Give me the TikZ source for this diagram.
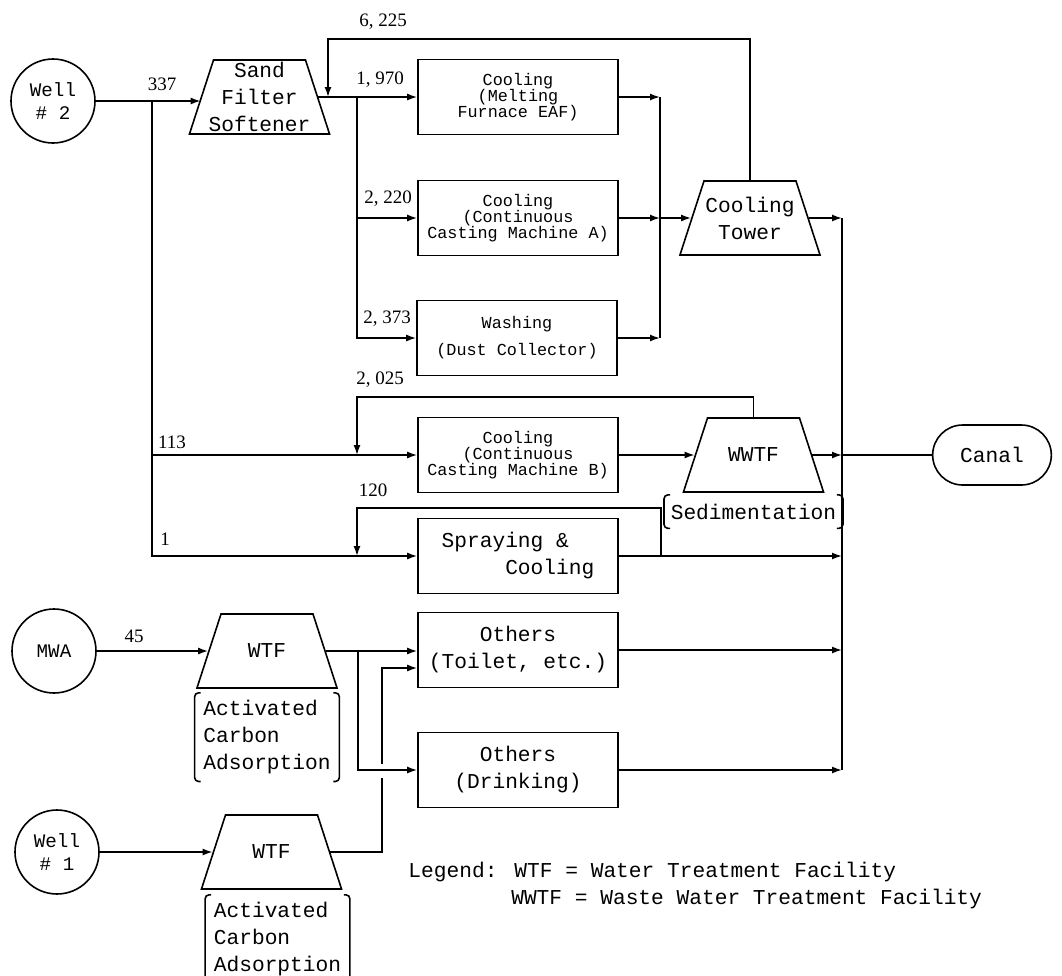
\documentclass[tikz,border=0pt]{standalone}
\usepackage{fontspec}
\setmainfont{Liberation Serif}
\newfontfamily\typewriter{Liberation Mono}
\usetikzlibrary{positioning,shapes.geometric,shapes.misc,arrows.meta}
\tikzset{
  txtbig/.style={font=\typewriter\fontsize{10.6}{13.5}\selectfont},
  txtsmall/.style={font=\typewriter\fontsize{8.4}{8.1}\selectfont},
  txtwide/.style={font=\typewriter\fontsize{8.4}{13.5}\selectfont},
  num/.style={font=\fontsize{9.5}{10}\selectfont, inner sep=0pt},
  box/.style={draw, minimum width=100pt, minimum height=37.5pt, inner sep=1pt, align=center},
  well/.style={draw, circle, minimum size=42pt, inner sep=0pt, align=center, font=\typewriter\fontsize{9.6}{11.5}\selectfont},
  plant/.style={draw, trapezium, trapezium angle=72, inner xsep=23pt, inner ysep=18.5pt},
  bracket/.style={txtbig, align=left, inner xsep=4pt}
}
\begin{document}
\begin{tikzpicture}[x=0.5pt, y=-0.5pt, line width=0.8pt, >={Latex[length=5pt,width=3.5pt]}]
  \useasboundingbox (0,0) rectangle (1062,976);
  % sources
  \node[well] (well2) at (53,101) {Well\\\# 2};
  \node[well] (mwa) at (54,651) {MWA};
  \node[well] (well1) at (57,852) {Well\\\# 1};
  % treatment
  \node[plant, label={[txtbig,align=center]center:{Sand\\Filter\\Softener}}] (sand) at (259.5,97) {};
  \node[plant, label={[txtbig,align=center]center:{Cooling\\Tower}}] (tower) at (750,218) {};
  \node[plant, label={[txtbig]center:WWTF}] (wwtf) at (753.5,455) {};
  \node[plant, label={[txtbig]center:WTF}] (wtf1) at (267,651) {};
  \node[plant, label={[txtbig]center:WTF}] (wtf2) at (271.5,852) {};
  \node[bracket, below=2pt of wtf1, minimum height=43pt] (acA) {Activated\\Carbon\\Adsorption};
  \node[bracket, below=2.5pt of wtf2, xshift=3pt, minimum height=40pt] (acB) {Activated\\Carbon\\Adsorption};
  \node[bracket, below=1pt of wwtf, minimum height=16pt, inner xsep=3pt] (sed) {Sedimentation};
  % uses
  \node[box, txtsmall] (furnace) at (518,97) {Cooling\\(Melting\\Furnace EAF)};
  \node[box, txtsmall] (castA) at (518,218) {Cooling\\(Continuous\\Casting Machine A)};
  \node[box, txtwide] (washing) at (517,338) {Washing\\(Dust Collector)};
  \node[box, txtsmall] (castB) at (518,455) {Cooling\\(Continuous\\Casting Machine B)};
  \node[box, txtbig, align=left] (spray) at (518,556) {Spraying \&\\\hspace*{3em}Cooling};
  \node[box, txtbig] (toilet) at (518,650) {Others\\(Toilet, etc.)};
  \node[box, txtbig] (drinking) at (518,770) {Others\\(Drinking)};
  \node[txtbig, draw, rounded rectangle, minimum width=66pt, minimum height=30pt] (canal) at (992,455) {Canal};
  % flow values
  \node[num] (q337) at (162,84) {337};
  \node[num] (q6225) at (383,22) {6, 225};
  \node[num] (q1970) at (380,80) {1, 970};
  \node[num] (q2220) at (388,199) {2, 220};
  \node[num] (q2373) at (387,319) {2, 373};
  \node[num] (q2025) at (380,380) {2, 025};
  \node[num] (q113) at (172,442) {113};
  \node[num] (q120) at (373,490) {120};
  \node[num] (q1) at (165,539) {1};
  \node[num] (q45) at (134,636) {45};
  \node[txtbig, align=left, anchor=west] (legend) at (401,886) {Legend: WTF = Water Treatment Facility\\\hspace*{4.85em}WWTF = Waste Water Treatment Facility};
  \foreach \n in {acA,acB,sed} {
    \draw[rounded corners=2pt] ([xshift=3pt]\n.north west) -- (\n.north west) -- (\n.south west) -- ([xshift=3pt]\n.south west);
    \draw[rounded corners=2pt] ([xshift=-3pt]\n.north east) -- (\n.north east) -- (\n.south east) -- ([xshift=-3pt]\n.south east);
  }
  % well 2 feed
  \coordinate (trunk) at (152,101);
  \draw[->] (well2) -- (well2 -| sand.west);
  \draw[->] (trunk) |- (spray.west);
  \draw[->] (trunk |- castB.west) -- (castB.west);
  % sand filter outlet
  \coordinate (dist) at (357,97);
  \draw[->] (sand.east) -- (furnace.west);
  \draw[->] (dist) |- (castA.west);
  \draw[->] (dist) |- (washing.west);
  \coordinate (ret) at (328,39);
  \draw[->] (tower.north) |- (ret) -- (ret |- sand.east);
  % to cooling tower
  \coordinate (colA) at (660,97);
  \draw[->] (furnace.east) -- (colA);
  \draw[->] (washing.east) -- (washing.east -| colA);
  \draw (colA) -- (colA |- washing.east);
  \draw[->] (castA.east) -- (castA.east -| colA);
  \draw[->] (castA.east -| colA) -- (tower.west);
  % WWTF
  \coordinate (ret2) at (357,397);
  \draw[->] (castB.east) -- (wwtf.west);
  \draw[->] (wwtf.north) |- (ret2) -- (ret2 |- castB.west);
  \coordinate (ret3) at (661,508);
  \coordinate (ret3b) at (357,508);
  \draw[->] (ret3 |- spray.east) -- (ret3) -- (ret3b) -- (ret3b |- spray.west);
  % to canal
  \coordinate (colB) at (842,218);
  \draw (colB |- tower.east) -- (colB |- drinking.east);
  \foreach \n in {tower,wwtf,spray,toilet,drinking}
    \draw[->] (\n.east) -- (\n.east -| colB);
  \draw (colB |- canal.west) -- (canal.west);
  % MWA and well 1
  \draw[->] (mwa) -- (mwa -| wtf1.west);
  \draw[->] (well1) -- (well1 -| wtf2.west);
  \draw[->] (wtf1.east) -- (wtf1.east -| toilet.west);
  \coordinate (sp1) at (358,651);
  \draw[->] (sp1) |- (drinking.west);
  \coordinate (up2) at (382,668);
  \draw (wtf2.east) -| (382,778);
  \draw[->] (382,764) -- (up2) -- (up2 -| toilet.west);
\end{tikzpicture}
\end{document}
